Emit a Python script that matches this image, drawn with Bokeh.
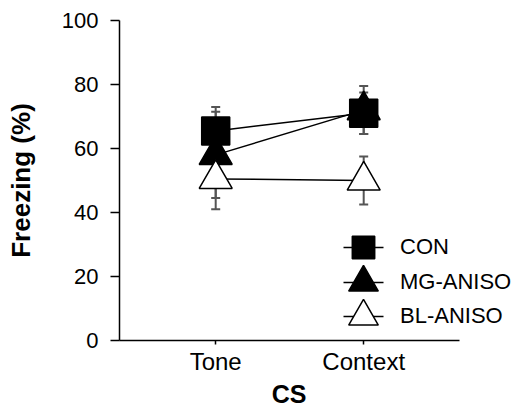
from bokeh.plotting import figure
from bokeh.models import (ColumnDataSource, Whisker, TeeHead, Legend, LegendItem,
                          Range1d, SingleIntervalTicker, FixedTicker, Title)
from bokeh.embed import file_html
from bokeh.resources import INLINE

# ---- data ----
cs = ["Tone", "Context"]
groups = ["CON", "MG-ANISO", "BL-ANISO"]
con = [65.5, 71.0]
con_err = [7.5, 6.5]
mg = [58.0, 72.0]
mg_err = [13.5, 7.5]
bl = [50.5, 50.0]
bl_err = [9.5, 7.5]

x = list(range(1, len(cs) + 1))
FONT = "Liberation Sans"

# x axis spans X_LO..X_HI; the frame continues to the right so that the
# legend texts (which reach past the axis end) are not clipped
X_LO, X_HI = 0.35, 2.65
PX_PER_UNIT = 148
FRAME_W = 392

p = figure(frame_width=FRAME_W, frame_height=320,
           x_range=Range1d(X_LO, X_LO + FRAME_W / PX_PER_UNIT),
           y_range=Range1d(0, 100),
           output_backend="svg", toolbar_location=None,
           min_border_left=119, min_border_top=20,
           min_border_bottom=40, min_border_right=0)
p.outline_line_color = None
p.grid.visible = False
p.background_fill_color = "white"

# axes
p.xaxis.bounds = (X_LO, X_HI)
p.xaxis.ticker = FixedTicker(ticks=x)
p.xaxis.major_label_overrides = {xi: c for xi, c in zip(x, cs)}
p.xaxis.major_tick_out = 4
p.xaxis.major_tick_in = 0
p.xaxis.major_label_standoff = 3
p.xaxis.major_label_text_font = FONT
p.xaxis.major_label_text_font_size = "24px"

p.yaxis.ticker = SingleIntervalTicker(interval=20, num_minor_ticks=2)
p.yaxis.major_tick_out = 9
p.yaxis.major_tick_in = 0
p.yaxis.minor_tick_out = 5
p.yaxis.minor_tick_in = 0
p.yaxis.major_label_standoff = 12
p.yaxis.major_label_text_font = FONT
p.yaxis.major_label_text_font_size = "22px"
p.yaxis.axis_label = "Freezing (%)"
p.yaxis.axis_label_standoff = 23

for ax in (p.xaxis, p.yaxis):
    ax.axis_line_color = "black"
    ax.axis_line_width = 1.5
    ax.major_tick_line_color = "black"
    ax.major_tick_line_width = 1.5
    ax.minor_tick_line_color = "black" if ax is p.yaxis else None
    ax.minor_tick_line_width = 1.5
    ax.major_label_text_color = "black"
    ax.axis_label_text_font = FONT
    ax.axis_label_text_font_size = "26px"
    ax.axis_label_text_font_style = "bold"
    ax.axis_label_text_color = "black"

# x-axis title, centred under the axis line (not under the wider frame)
axis_len_px = (X_HI - X_LO) * PX_PER_UNIT
p.add_layout(Title(text="CS", align="left", offset=axis_len_px / 2 - 18,
                   text_font=FONT, text_font_size="25px", text_font_style="bold",
                   text_color="black", standoff=0), "below")

series = [
    (groups[0], con, con_err, "square", 28, "black", 22.4),
    (groups[1], mg, mg_err, "triangle", 33, "black", 29.6),
    (groups[2], bl, bl_err, "triangle", 33, "white", 29.6),
]

ERR_COLOR = "#555555"
sources = []
for name, vals, errs, marker, size, fill, lsize in series:
    src = ColumnDataSource(dict(
        x=x, y=vals,
        upper=[v + e for v, e in zip(vals, errs)],
        lower=[v - e for v, e in zip(vals, errs)]))
    w = Whisker(base="x", upper="upper", lower="lower", source=src,
                line_color=ERR_COLOR, line_width=2, level="underlay",
                upper_head=TeeHead(size=9, line_color=ERR_COLOR, line_width=2),
                lower_head=TeeHead(size=9, line_color=ERR_COLOR, line_width=2))
    p.add_layout(w)
    sources.append(src)

# connecting lines
for name, vals, errs, marker, size, fill, lsize in series:
    p.line(x=x, y=vals, line_color="black", line_width=1.5)

keys = []
for src, (name, vals, errs, marker, size, fill, lsize) in zip(sources, series):
    r = p.scatter(x="x", y="y", source=src, marker=marker, size=size,
                  fill_color=fill, line_color="black", line_width=1.5)
    g = int(round(lsize / 0.4))
    gap = int(round((g - 40) / 2))
    stub = p.line(x="x", y="y", source=src, line_color="black", line_width=1.5,
                  line_dash=f"0 {gap} 40 200", visible=False)
    keys.append((name, stub, r, g))

# legend: one Legend per row (each with its own key size)
rows_center_y = [93, 58, 24]   # key centres, px from frame bottom
key_center_x = 244             # px from frame left
label_x = 281                  # px from frame left
for (name, stub, r, g), cy in zip(keys, rows_center_y):
    leg = Legend(items=[LegendItem(label=name, renderers=[stub, r])],
                 location=(key_center_x - g / 2, cy - g / 2),
                 glyph_width=g, glyph_height=g,
                 label_standoff=max(0, int(label_x - (key_center_x + g / 2))),
                 padding=0, margin=0, spacing=0,
                 border_line_color=None, background_fill_alpha=0,
                 label_text_font=FONT, label_text_font_size="22px",
                 label_text_color="black")
    p.add_layout(leg)

open("out.html", "w").write(file_html(p, INLINE))
